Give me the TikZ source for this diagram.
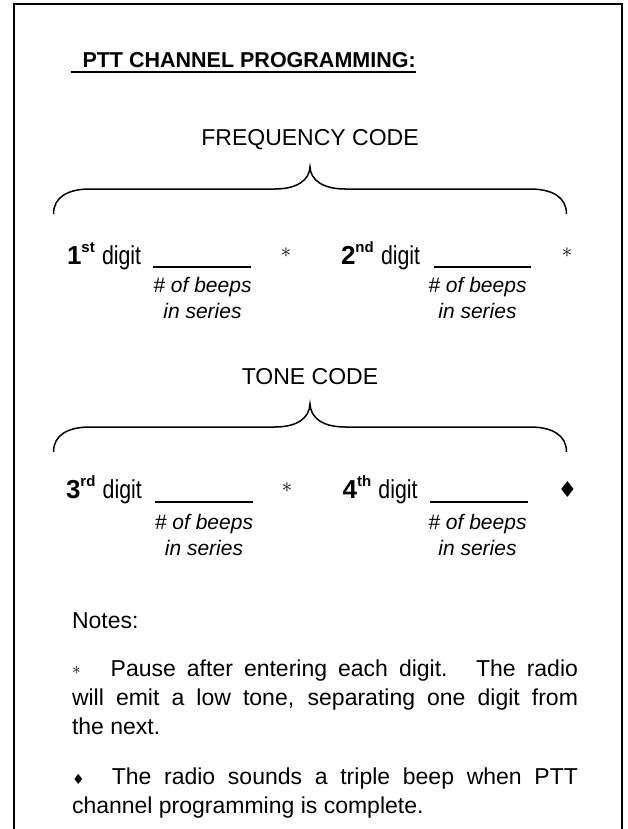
\documentclass[tikz,border=0pt]{standalone}
\usepackage{fontspec}
\setmainfont{Liberation Sans}
\newfontfamily\narrowfont[FakeStretch=0.82]{Liberation Sans}
\newfontfamily\symfont{DejaVu Sans}
\usetikzlibrary{calc}
\begin{document}
\begin{tikzpicture}[x=1pt,y=-1pt,
  every node/.style={inner sep=0pt, outer sep=0pt},
  titlestyle/.style={anchor=base west, font=\fontsize{21.5}{21.5}\selectfont\bfseries},
  codelabel/.style={anchor=base, font=\fontsize{23}{23}\selectfont},
  digitlabel/.style={anchor=base west, font=\fontsize{26}{26}\selectfont},
  hint/.style={anchor=base, font=\fontsize{21}{21}\selectfont\itshape},
  sepmark/.style={anchor=center, font=\fontsize{22}{22}\selectfont},
  endmark/.style={anchor=center, font=\fontsize{22}{22}\selectfont\symfont},
  noteline/.style={anchor=base west, font=\fontsize{23}{28}\selectfont},
  brace/.style={line width=1.5pt},
  blank/.style={line width=1.6pt},
  framestyle/.style={line width=2pt}
]
\useasboundingbox (0,0) rectangle (628,829);
% frame (open at bottom)
\draw[framestyle] (14,829) -- (14,4) -- (622,4) -- (622,829);

% title
\node[titlestyle] (title) at (82.5,67.6) {PTT CHANNEL PROGRAMMING:};
\draw[line width=2pt] ($(title.base west)+(-12,4)$) -- ($(title.base east)+(0,4)$);

% ---------- frequency code ----------
\node[codelabel] (freq) at (310,146) {FREQUENCY CODE};
\draw[brace] (53.5,214) .. controls (53.5,197) and (68,189) .. (90,189) -- (275,189)
  .. controls (297,189) and (309.5,180) .. (310,167)
  .. controls (310.5,180) and (323,189) .. (345,189) -- (530,189)
  .. controls (552,189) and (566.5,197) .. (566.5,214);

\node[digitlabel] (d1) at (67,264) {{\bfseries 1\raisebox{12pt}{\fontsize{15}{15}\selectfont st}}\ {\narrowfont digit}};
\draw[blank] (153,267) -- (251,267);
\node[sepmark] (s1) at (286,253) {$\ast$};
\node[hint] (h1a) at (202.5,292) {\# of beeps};
\node[hint] (h1b) at (202.5,318) {in series};

\node[digitlabel] (d2) at (341,264) {{\bfseries 2\raisebox{12pt}{\fontsize{15}{15}\selectfont nd}}\ {\narrowfont digit}};
\draw[blank] (434,267) -- (531,267);
\node[sepmark] (s2) at (567,253) {$\ast$};
\node[hint] (h2a) at (477.5,292) {\# of beeps};
\node[hint] (h2b) at (477.5,318) {in series};

% ---------- tone code ----------
\node[codelabel] (tone) at (310,384) {TONE CODE};
\draw[brace] (53.5,452) .. controls (53.5,435) and (68,427) .. (90,427) -- (275,427)
  .. controls (297,427) and (309.5,418) .. (310,404)
  .. controls (310.5,418) and (323,427) .. (345,427) -- (530,427)
  .. controls (552,427) and (566.5,435) .. (566.5,452);

\node[digitlabel] (d3) at (66,498) {{\bfseries 3\raisebox{12pt}{\fontsize{15}{15}\selectfont rd}}\ {\narrowfont digit}};
\draw[blank] (155,502) -- (253,502);
\node[sepmark] (s3) at (287,488) {$\ast$};
\node[hint] (h3a) at (204,529) {\# of beeps};
\node[hint] (h3b) at (204,555) {in series};

\node[digitlabel] (d4) at (342.6,498) {{\bfseries 4\raisebox{12pt}{\fontsize{15}{15}\selectfont th}}\ {\narrowfont digit}};
\draw[blank] (430,502) -- (528,502);
\node[endmark] (s4) at (567.6,489.5) {♦};
\node[hint] (h4a) at (477.5,529) {\# of beeps};
\node[hint] (h4b) at (477.5,555) {in series};

% ---------- notes ----------
\node[noteline] (notes) at (72,628) {Notes:};
\node[noteline] (n1a) at (72,676.7) {\makebox[506pt][s]{\makebox[38.7pt][l]{\raisebox{2pt}{\fontsize{16}{16}\selectfont$\ast$}}Pause after entering each digit.\hspace{6pt} The radio}};
\node[noteline] (n1b) at (72,705.4) {\makebox[506pt][s]{will emit a low tone, separating one digit from}};
\node[noteline] (n1c) at (72,734) {the next.};
\node[noteline] (n2a) at (72,784.3) {\makebox[506pt][s]{\makebox[39.8pt][l]{\fontsize{14}{14}\selectfont\symfont ♦}The radio sounds a triple beep when PTT}};
\node[noteline] (n2b) at (72,813) {channel programming is complete.};
\end{tikzpicture}
\end{document}
